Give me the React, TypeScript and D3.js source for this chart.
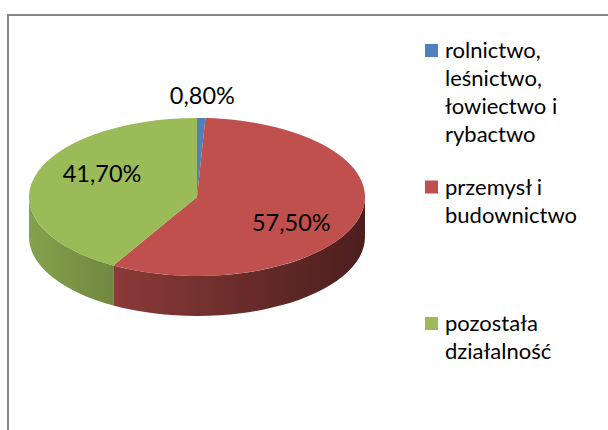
import React from 'react';
import * as d3 from 'd3';

const categories = [
  'rolnictwo, leśnictwo, łowiectwo i rybactwo',
  'przemysł i budownictwo',
  'pozostała działalność',
];
const values = [0.8, 57.5, 41.7];
const colors = ['#4F81BD', '#C0504D', '#9BBB59'];

const FONT = 'Lato, "Open Sans", sans-serif';

function wrap(text: string, maxW: number, font: string): string[] {
  const canvas = document.createElement('canvas');
  const ctx = canvas.getContext('2d')!;
  ctx.font = font;
  const words = text.split(' ');
  const lines: string[] = [];
  let cur = '';
  for (const w of words) {
    const t = cur ? cur + ' ' + w : w;
    if (cur && ctx.measureText(t).width > maxW) {
      lines.push(cur);
      cur = w;
    } else cur = t;
  }
  if (cur) lines.push(cur);
  return lines;
}

const fmt = (v: number) => d3.format('.2f')(v).replace('.', ',') + '%';

export default function App() {
  const W = 608, H = 430;
  const cx = 197, cy = 197, rx = 168, ry = 79, depth = 40;
  const arcs = d3.pie<number>().sort(null).value(d => d)(values);
  const arcGen = d3.arc<d3.PieArcDatum<number>>().innerRadius(0).outerRadius(rx);
  const pt = (a: number, dy = 0): [number, number] => [cx + rx * Math.sin(a), cy - ry * Math.cos(a) + dy];

  const shade = (c: string, f: number) => {
    const r = d3.rgb(c);
    return d3.rgb(r.r * f, r.g * f, r.b * f).formatHex();
  };

  const legendFontSize = 22;
  const legendFont = `${legendFontSize}px Lato`;
  const legendX = 425, legendTop = 44, legendStep = 136.5, sq = 13, lineH = 28;

  return (
    <svg width={W} height={H} style={{ position: 'absolute', left: 0, top: 0, background: '#fff' }} fontFamily={FONT}>
      <defs>
        {arcs.map((a, i) => (
          <linearGradient key={i} id={`side${i}`} gradientUnits="userSpaceOnUse" x1={cx - rx} x2={cx + rx} y1={0} y2={0}>
            <stop offset="0" stopColor={shade(colors[i], 0.86)} />
            <stop offset="0.3" stopColor={shade(colors[i], 0.7)} />
            <stop offset="1" stopColor={shade(colors[i], 0.39)} />
          </linearGradient>
        ))}
      </defs>
      <rect x={8} y={15} width={700} height={500} fill="#fff" stroke="#878787" strokeWidth={2} />
      {/* sides */}
      {arcs.map((a, i) => {
        const s = Math.max(a.startAngle, Math.PI / 2);
        const e = Math.min(a.endAngle, (3 * Math.PI) / 2);
        if (s >= e) return null;
        const [x0, y0] = pt(s);
        const [x1, y1] = pt(e);
        const d = `M${x0},${y0} A${rx},${ry} 0 0 1 ${x1},${y1} L${x1},${y1 + depth} A${rx},${ry} 0 0 0 ${x0},${y0 + depth} Z`;
        return <path key={i} d={d} fill={`url(#side${i})`} />;
      })}
      {/* top faces */}
      <g transform={`translate(${cx},${cy}) scale(1,${ry / rx})`}>
        {arcs.map((a, i) => (
          <path key={i} d={arcGen(a) || ''} fill={colors[i]} />
        ))}
      </g>
      {/* labels */}
      {arcs.map((a, i) => {
        const mid = (a.startAngle + a.endAngle) / 2;
        const small = values[i] < 5;
        const kx = small ? 1.28 : 0.585;
        const ky = small ? 1.28 : 1.14;
        const x = cx + rx * kx * Math.sin(mid);
        const y = cy - ry * ky * Math.cos(mid);
        return (
          <text key={i} x={x} y={y} dy="0.35em" textAnchor="middle" fontSize={23.5} fill="#000">
            {fmt(values[i])}
          </text>
        );
      })}
      {/* legend */}
      {categories.map((c, i) => {
        const top = legendTop + i * legendStep;
        const lines = wrap(c, 140, legendFont);
        return (
          <g key={i}>
            <rect x={legendX} y={top} width={sq} height={sq} fill={colors[i]} />
            <text x={legendX + 20} y={top + 14} fontSize={legendFontSize} fill="#000">
              {lines.map((l, j) => (
                <tspan key={j} x={legendX + 20} dy={j === 0 ? 0 : lineH}>{l}</tspan>
              ))}
            </text>
          </g>
        );
      })}
    </svg>
  );
}
